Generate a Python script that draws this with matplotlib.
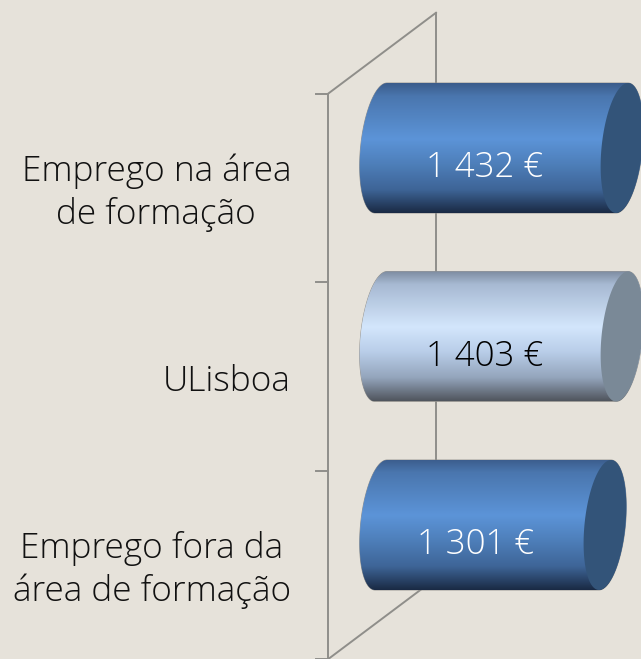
import numpy as np
import matplotlib
matplotlib.use("Agg")
import matplotlib.pyplot as plt
from matplotlib.colors import LinearSegmentedColormap
from matplotlib.patches import Polygon
from matplotlib.transforms import offset_copy, IdentityTransform

categories = ["Emprego na área\nde formação", "ULisboa", "Emprego fora da\nárea de formação"]
values = [1432, 1403, 1301]
value_labels = ["1 432 €", "1 403 €", "1 301 €"]
axis_max = 1400  # the chart's axis stops here, the two upper bars are cut off

BG = "#e6e2da"
LINE = "#8f8e8a"
BLUE = [(0, "#3b5c8b"), (0.1, "#4a76ae"), (0.43, "#5c94d8"), (0.62, "#4e7fba"),
        (0.82, "#3e6597"), (1, "#1a2a44")]
LIGHT = [(0, "#7d8ca1"), (0.1, "#a7b9d2"), (0.43, "#d3e6fc"), (0.62, "#b9cee9"),
         (0.82, "#94a5bc"), (1, "#50555d")]
styles = [(BLUE, "#335479", "white"), (LIGHT, "#7a8997", "black"), (BLUE, "#335479", "white")]

px_per_unit = 241 / axis_max
step = 188.5
half_h = 65 / step
cap_a = 20.5 / px_per_unit
cap_s = 6 / px_per_unit

fig = plt.figure(figsize=(6.41, 6.59), dpi=100, facecolor=BG)
ax = fig.add_axes([0, 0, 1, 1])
ax.set_axis_off()


def set_limits():
    # bar plane: value 0 at px 381, 1400 at px 622, first category at px 148
    ax.set_xlim(-381 / px_per_unit, (641 - 381) / px_per_unit)
    ax.set_ylim((659 - 148) / step, -148 / step)


set_limits()

front = offset_copy(ax.transData, fig, x=-53, y=-40, units="dots")
back = offset_copy(ax.transData, fig, x=55, y=41, units="dots")
tick_tf = offset_copy(ax.transData, fig, x=-65, y=-40, units="dots")
lw = 1.4

# back wall and floor/ceiling lines
ax.plot([0, 0], [-0.5, 2.5], color=LINE, lw=lw, transform=back, zorder=1)
ax.plot([0, 0], [-0.5, 2.5], color=LINE, lw=lw, transform=front, zorder=1)
for y in [-0.5, 2.5]:
    p0 = front.transform((0, y))
    p1 = back.transform((0, y))
    ax.plot([p0[0], p1[0]], [p0[1], p1[1]], color=LINE, lw=lw,
            transform=IdentityTransform(), zorder=1)
for y in [-0.5, 0.5, 1.5, 2.5]:
    p0 = tick_tf.transform((0, y))
    p1 = front.transform((0, y))
    ax.plot([p0[0], p1[0]], [p0[1], p1[1]], color=LINE, lw=lw,
            transform=IdentityTransform(), zorder=1)


def cap(x, y, t):
    # slanted end of a cylinder
    return np.column_stack([x + cap_a * np.cos(t) + cap_s * np.sin(t),
                            y - half_h * np.sin(t)])


for i, (val, lab, cat) in enumerate(zip(values, value_labels, categories)):
    stops, cap_col, txt_col = styles[i]
    end = min(val, axis_max)

    left = cap(0, i, np.linspace(np.pi / 2, 3 * np.pi / 2, 80))
    right = cap(end, i, np.linspace(3 * np.pi / 2, 5 * np.pi / 2, 80))
    body = Polygon(np.vstack([left, right]), closed=True, fc="none",
                   ec="#8f8e8a", lw=0.6, transform=ax.transData, zorder=2)
    ax.add_patch(body)

    cmap = LinearSegmentedColormap.from_list("cyl", stops)
    im = ax.imshow(np.linspace(0, 1, 256)[:, None], cmap=cmap, aspect="auto",
                   origin="upper", interpolation="bilinear", zorder=3,
                   extent=[-cap_a * 1.5, end + cap_a * 1.5, i + half_h, i - half_h])
    im.set_clip_path(body)

    face = cap(end, i, np.linspace(0, 2 * np.pi, 160))
    ax.add_patch(Polygon(face, closed=True, fc=cap_col, ec="none", zorder=4))

    val_tf = offset_copy(ax.transData, fig, x=-17, y=-20, units="dots")
    ax.text(end / 2, i, lab, transform=val_tf, ha="center", va="center",
            color=txt_col, fontsize=25, family="Open Sans", fontweight="light", zorder=5)

    lab_tf = offset_copy(ax.transData, fig, x=-90, y=-45, units="dots")
    ax.text(0, i, cat, transform=lab_tf, ha="right", va="center", ma="center",
            color="#111111", fontsize=25.4, family="Open Sans", fontweight="light",
            linespacing=1.3, zorder=5)

set_limits()

fig.savefig("out.png", dpi=100, facecolor=BG)
